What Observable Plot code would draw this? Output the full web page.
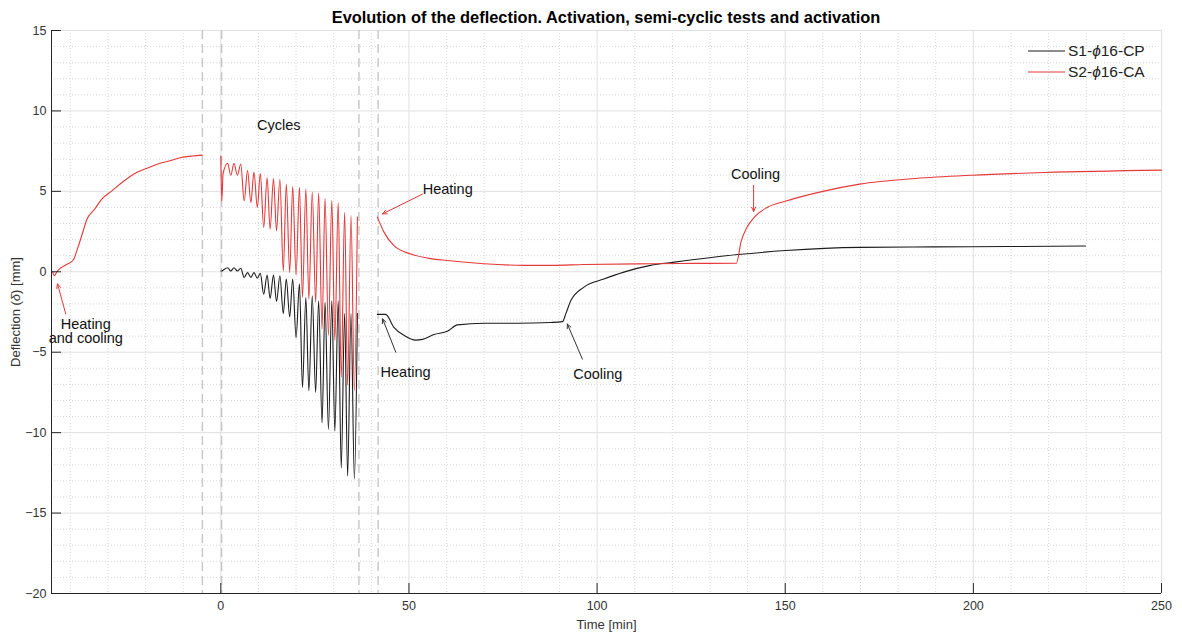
<!DOCTYPE html>
<html><head><meta charset="utf-8">
<script src="https://cdn.jsdelivr.net/npm/d3@7"></script>
<script src="https://cdn.jsdelivr.net/npm/@observablehq/plot@0.6"></script>
<style>
body{margin:0;background:#fff;font-family:"Liberation Sans",Arial,sans-serif;}
#wrap{position:relative;width:1182px;height:635px;overflow:hidden;background:#fff}
#title{height:24px;box-sizing:border-box;padding-top:10px;padding-left:51px;width:1161px;text-align:center;font-weight:bold;font-size:16.4px;line-height:15px;color:#000;white-space:nowrap}
</style></head><body>
<div id="wrap"><div id="title">Evolution of the deflection. Activation, semi-cyclic tests and activation</div><div id="chart"></div></div>
<script>
// ---------- data ----------
const seriesNames = ["S1-ϕ16-CP", "S2-ϕ16-CA"];

const xDomain = [-45, 250];
const yDomain = [-20, 15];
const xTicks = [0, 50, 100, 150, 200, 250];
const xMinor = [-40, -30, -20, -10, 10, 20, 30, 40, 60, 70, 80, 90, 110, 120, 130, 140, 160, 170, 180, 190, 210, 220, 230, 240];
const yTicks = [-20, -15, -10, -5, 0, 5, 10, 15];
const yMinor = [-19, -18, -17, -16, -14, -13, -12, -11, -9, -8, -7, -6, -4, -3, -2, -1, 1, 2, 3, 4, 6, 7, 8, 9, 11, 12, 13, 14];

// phase boundaries (dashed lines)
const phaseBreaks = [-4.9, 0.2, 36.7, 41.8];

// S2 (red): first activation, before the cycles
const s2ActTime = [-44.7, -44.2, -43.6, -42.5, -41.0, -39.3, -38.0, -36.5, -35.7, -33.5, -31.7, -29.1, -26.0, -23.0, -20.0, -16.7, -13.5, -10.6, -7.5, -4.9];
const s2ActDefl = [0.0, -0.25, 0.0, 0.25, 0.45, 0.7, 1.5, 2.6, 3.2, 3.9, 4.5, 5.0, 5.6, 6.1, 6.4, 6.7, 6.9, 7.1, 7.2, 7.25];

// semi-cyclic tests: vertices (peaks and troughs) shared by both specimens
const cycleTime = [0.0, 0.25, 0.6, 1.8, 2.65, 3.5, 4.4, 5.3,
  6.2, 7.1, 8.0, 8.8, 9.7, 10.5, 11.4, 12.3, 13.1, 14.0, 14.8, 15.7,
  16.6, 17.4, 18.3, 19.1, 20.0, 20.9, 21.7, 22.6, 23.4, 24.3, 25.2, 26.0,
  26.9, 27.7, 28.6, 29.5, 30.3, 31.2, 32.0, 32.9, 33.7, 34.6, 35.5, 36.3];
const s2CycleDefl = [7.2, 4.4, 6.1, 6.75, 6.0, 6.75, 6.0, 6.7,
  4.4, 6.3, 4.3, 6.2, 4.0, 6.1, 2.75, 5.85, 2.65, 5.8, 2.55, 5.75,
  0.05, 5.45, -0.05, 5.3, -0.2, 5.25, -1.6, 5.15, -1.7, 4.95, -1.9, 4.9,
  -3.55, 4.55, -3.95, 4.45, -4.25, 4.3, -6.55, 3.7, -7.05, 3.5, -7.4, 3.4];
const s1CycleDefl = [0.05, 0.05, 0.1, 0.25, 0.05, 0.25, 0.05, 0.22,
  -0.35, -0.05, -0.35, -0.05, -0.4, -0.1, -1.4, -0.2, -1.65, -0.2, -1.85, -0.25,
  -2.6, -0.45, -2.8, -0.45, -4.1, -0.75, -7.2, -1.6, -7.4, -1.5, -7.5, -1.8,
  -9.4, -1.9, -9.8, -1.8, -9.9, -1.8, -12.2, -2.6, -12.7, -2.6, -12.9, -2.6];

// second activation (heating, then cooling)
const s2PostTime = [41.6, 43.4, 46.0, 50.5, 55.0, 60.2, 69.9, 80.6, 87.7, 96.5, 114.2, 125.0, 137.0, 138.3, 139.8, 141.8, 145.2, 150.2, 160.0, 169.8, 184.6, 199.4, 218.9, 250.0];
const s2PostDefl = [3.4, 2.45, 1.62, 1.1, 0.85, 0.7, 0.5, 0.4, 0.4, 0.45, 0.5, 0.52, 0.53, 1.9, 2.75, 3.4, 4.0, 4.4, 5.0, 5.45, 5.8, 6.0, 6.17, 6.32];
const s1PostTime = [41.6, 43.8, 46.0, 48.7, 51.8, 53.6, 56.7, 60.2, 62.9, 70.0, 78.8, 87.7, 90.8, 91.7, 93.0, 96.5, 101.8, 107.1, 114.2, 120.6, 137.4, 150.1, 169.8, 189.4, 209.1, 229.8];
const s1PostDefl = [-2.65, -2.65, -3.45, -3.95, -4.25, -4.2, -3.9, -3.7, -3.3, -3.2, -3.2, -3.15, -3.1, -2.6, -1.8, -0.95, -0.45, -0.02, 0.4, 0.6, 1.07, 1.32, 1.52, 1.55, 1.57, 1.6];

// annotations
const noteLabels = ["Heating\nand cooling", "Cycles", "Heating", "Heating", "Cooling", "Cooling"];
const noteTime = [-35.9, 15.4, 60.3, 49.1, 100.2, 142.1];
const noteDefl = [-3.71, 9.07, 5.08, -6.26, -6.36, 6.05];

const arrowSeries = ["S2", "S2", "S1", "S1", "S2"];
const arrowFromTime = [-41.2, 53.6, 46.5, 96.1, 141.6];
const arrowFromDefl = [-2.63, 4.83, -5.0, -5.43, 5.37];
const arrowToTime = [-43.4, 43.0, 43.0, 92.1, 141.6];
const arrowToDefl = [-0.75, 3.6, -2.93, -3.25, 3.75];

// ---------- build ----------
const BLACK = "#1c1c1c", RED = "#e53838";
function seg(name, T, D) { return T.map((t, i) => ({seg: name, t, d: D[i]})); }
const s1Rows = [...seg("s1cyc", cycleTime, s1CycleDefl), ...seg("s1post", s1PostTime, s1PostDefl)];
const s2Rows = [...seg("s2act", s2ActTime, s2ActDefl), ...seg("s2cyc", cycleTime, s2CycleDefl), ...seg("s2post", s2PostTime, s2PostDefl)];
const arrows = arrowSeries.map((s, i) => ({s, x1: arrowFromTime[i], y1: arrowFromDefl[i], x2: arrowToTime[i], y2: arrowToDefl[i]}));
const notes = noteLabels.map((l, i) => ({l, t: noteTime[i], d: noteDefl[i]}));

const chart = Plot.plot({
  width: 1182, height: 611,
  marginLeft: 51, marginRight: 21, marginTop: 6, marginBottom: 42,
  x: {domain: xDomain},
  y: {domain: yDomain},
  style: {fontFamily: "'Liberation Sans', Arial, sans-serif", fontSize: "12.5px", color: "#333", background: "white", overflow: "visible"},
  marks: [
    Plot.gridX(xMinor, {stroke: "#cfcfcf", strokeOpacity: 1, strokeDasharray: "1,2", strokeWidth: 0.8}),
    Plot.gridY(yMinor, {stroke: "#cfcfcf", strokeOpacity: 1, strokeDasharray: "1,2", strokeWidth: 0.8}),
    Plot.gridX(xTicks, {stroke: "#e0e0e0", strokeOpacity: 1}),
    Plot.gridY(yTicks, {stroke: "#e0e0e0", strokeOpacity: 1}),
    Plot.ruleX(phaseBreaks, {stroke: "#c6c6c6", strokeWidth: 1.4, strokeDasharray: "9,5"}),
    Plot.line(s1Rows, {x: "t", y: "d", z: "seg", stroke: BLACK, strokeWidth: 1.1, curve: "monotone-x"}),
    Plot.line(s2Rows, {x: "t", y: "d", z: "seg", stroke: RED, strokeWidth: 1.1, curve: "monotone-x"}),
    Plot.arrow(arrows, {x1: "x1", y1: "y1", x2: "x2", y2: "y2", stroke: d => d.s === "S2" ? RED : "#333", strokeWidth: 1, headLength: 7, headAngle: 50}),
    Plot.text(notes, {x: "t", y: "d", text: "l", fill: "#111", fontSize: 14.5, lineHeight: 0.95}),
    Plot.ruleX([xDomain[0]], {stroke: "#262626"}),
    Plot.ruleY([yDomain[0]], {stroke: "#262626"}),
    Plot.axisX(xTicks, {tickSize: -10, fill: "none", stroke: "#262626", label: null}),
    Plot.axisY(yTicks, {tickSize: -10, fill: "none", stroke: "#262626", label: null}),
    Plot.axisX(xTicks, {tickSize: 0, tickPadding: 8, fill: "#333", label: "Time [min]", labelAnchor: "center", labelOffset: 35, labelArrow: "none"}),
    Plot.axisY(yTicks, {tickSize: 0, tickPadding: 5, fill: "#333", label: "Deflection (δ) [mm]", labelAnchor: "center", labelOffset: 41, labelArrow: "none"})
  ]
});
document.getElementById("chart").appendChild(chart);

// italic delta in y label
const svg = d3.select(chart);
svg.selectAll("text").each(function () {
  const el = d3.select(this);
  if (el.text() === "Deflection (δ) [mm]") {
    el.text(null);
    el.append("tspan").text("Deflection (");
    el.append("tspan").style("font-style", "italic").text("δ");
    el.append("tspan").text(") [mm]");
    el.style("font-size", "13px");
  }
  if (el.text() === "Time [min]") el.style("font-size", "13px");
});

// legend
const leg = svg.append("g")
  .style("font-family", "'Liberation Sans', Arial, sans-serif")
  .style("font-size", "15.5px")
  .attr("text-anchor", "start");
[BLACK, RED].forEach((c, i) => {
  const y = 27 + i * 21;
  leg.append("line").attr("x1", 1028).attr("x2", 1065).attr("y1", y).attr("y2", y).attr("stroke", c).attr("stroke-width", 1.1);
  const t = leg.append("text").attr("x", 1068).attr("y", y).attr("dy", "0.35em")
    .style("text-anchor", "start").style("font-size", "15.5px").attr("fill", "#222");
  const [a, b] = seriesNames[i].split("ϕ");
  t.append("tspan").text(a);
  t.append("tspan").style("font-style", "italic").text("ϕ");
  t.append("tspan").text(b);
});
</script>
</body></html>
